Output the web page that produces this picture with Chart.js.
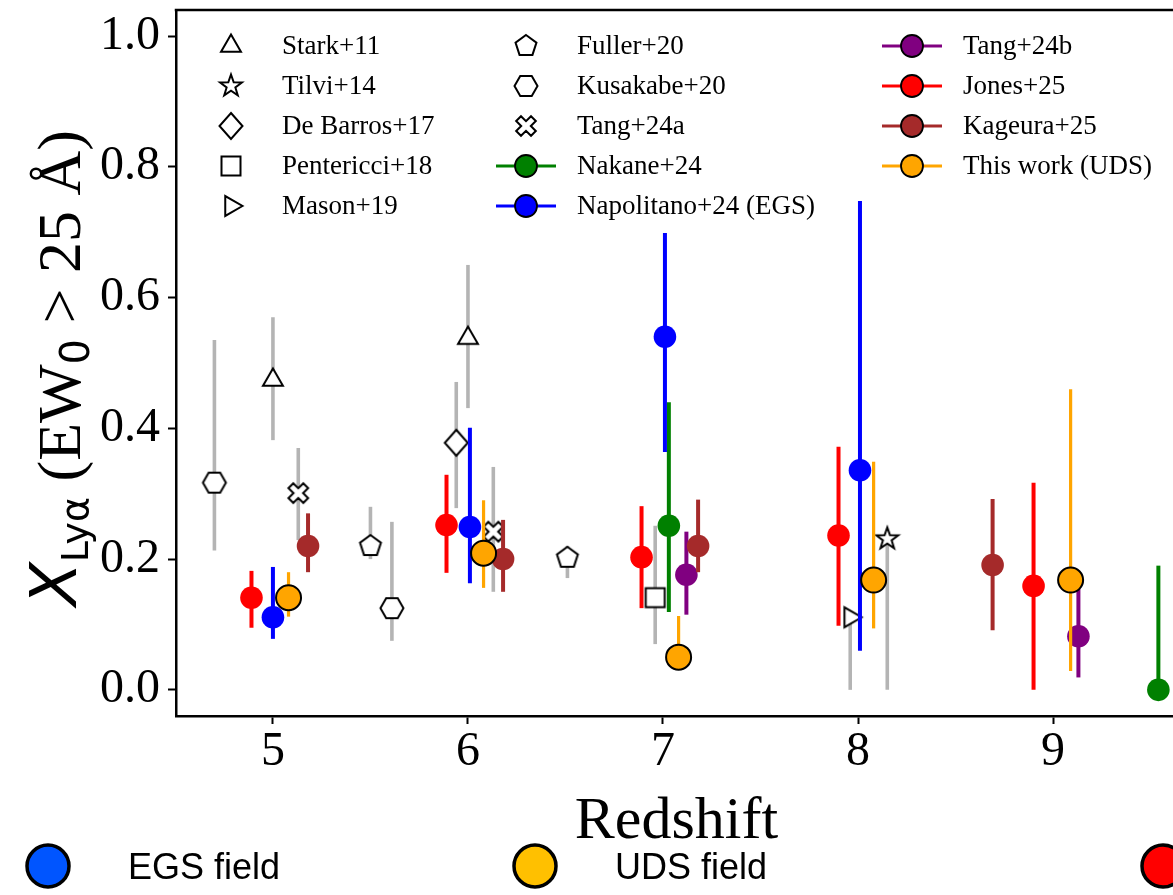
<!DOCTYPE html>
<html><head><meta charset="utf-8">
<script src="https://cdn.jsdelivr.net/npm/chart.js@4.4.1/dist/chart.umd.min.js"></script>
<style>html,body{margin:0;padding:0;background:#fff;overflow:hidden}canvas{display:block}</style>
</head><body>
<canvas id="c" width="1173" height="895"></canvas>
<script>
// ---------------- data ----------------
const xTicks = [5, 6, 7, 8, 9];
const xTickLabels = ['5', '6', '7', '8', '9'];
const yTicks = [0.0, 0.2, 0.4, 0.6, 0.8, 1.0];
const yTickLabels = ['0.0', '0.2', '0.4', '0.6', '0.8', '1.0'];

const starkZ = [5.0, 6.0],   starkY = [0.474, 0.538], starkLo = [0.382, 0.431], starkHi = [0.570, 0.650];
const tilviZ = [8.15],       tilviY = [0.231],        tilviLo = [0.0],          tilviHi = [0.231];
const debarrosZ = [5.94],    debarrosY = [0.378],     debarrosLo = [0.278],     debarrosHi = [0.471];
const pentericciZ = [6.96],  pentericciY = [0.141],   pentericciLo = [0.070],   pentericciHi = [0.251];
const masonZ = [7.96],       masonY = [0.111],        masonLo = [0.0],          masonHi = [0.111];
const fullerZ = [5.5, 6.51], fullerY = [0.220, 0.202], fullerLo = [0.200, 0.171], fullerHi = [0.280, 0.220];
const kusakabeZ = [4.70, 5.61], kusakabeY = [0.317, 0.125], kusakabeLo = [0.213, 0.075], kusakabeHi = [0.535, 0.257];
const tang24aZ = [5.13, 6.13], tang24aY = [0.301, 0.242], tang24aLo = [0.229, 0.150], tang24aHi = [0.370, 0.341];
const nakaneZ = [7.03, 9.54], nakaneY = [0.251, 0.0], nakaneLo = [0.119, 0.0], nakaneHi = [0.440, 0.190];
const napolitanoZ = [5.0, 6.01, 7.01, 8.01], napolitanoY = [0.111, 0.249, 0.540, 0.336],
      napolitanoLo = [0.078, 0.163, 0.364, 0.060], napolitanoHi = [0.188, 0.401, 0.699, 0.748];
const tang24bZ = [7.12, 9.13], tang24bY = [0.176, 0.082], tang24bLo = [0.115, 0.019], tang24bHi = [0.242, 0.154];
const jonesZ = [4.89, 5.89, 6.89, 7.90, 8.90], jonesY = [0.141, 0.252, 0.203, 0.236, 0.159],
      jonesLo = [0.095, 0.179, 0.125, 0.098, 0.0], jonesHi = [0.182, 0.329, 0.281, 0.372, 0.317];
const kageuraZ = [5.18, 6.18, 7.18, 8.69], kageuraY = [0.220, 0.200, 0.220, 0.191],
      kageuraLo = [0.180, 0.150, 0.180, 0.091], kageuraHi = [0.270, 0.260, 0.291, 0.292];
const thisWorkZ = [5.08, 6.08, 7.08, 8.08, 9.09], thisWorkY = [0.141, 0.209, 0.050, 0.168, 0.168],
      thisWorkLo = [0.112, 0.156, 0.035, 0.094, 0.029], thisWorkHi = [0.180, 0.290, 0.113, 0.349, 0.460];

const fieldLabels = ['EGS field', 'UDS field', ''];

// ---------------- marker images ----------------
function makeMarker(shape) {
  const S = 36, c = document.createElement('canvas');
  c.width = S; c.height = S;
  const g = c.getContext('2d');
  g.translate(S / 2, S / 2);
  g.beginPath();
  const poly = (n, r, a0) => { for (let k = 0; k < n; k++) { const a = a0 + k * 2 * Math.PI / n; const px = r * Math.cos(a), py = r * Math.sin(a); k ? g.lineTo(px, py) : g.moveTo(px, py); } g.closePath(); };
  if (shape === 'triUp') poly(3, 11.5, -Math.PI / 2);
  else if (shape === 'triRight') poly(3, 11.5, 0);
  else if (shape === 'pentagon') poly(5, 11, -Math.PI / 2);
  else if (shape === 'hexagon') poly(6, 11.5, 0);
  else if (shape === 'square') { g.rect(-9.5, -9.5, 19, 19); }
  else if (shape === 'diamond') { g.moveTo(0, -13); g.lineTo(11.5, 0); g.lineTo(0, 13); g.lineTo(-11.5, 0); g.closePath(); }
  else if (shape === 'star') {
    for (let k = 0; k < 10; k++) { const r = k % 2 ? 4.6 : 11.5; const a = -Math.PI / 2 + k * Math.PI / 5; const px = r * Math.cos(a), py = r * Math.sin(a); k ? g.lineTo(px, py) : g.moveTo(px, py); }
    g.closePath();
  } else if (shape === 'xcross') {
    const w = 3.4, L = 10.5;
    const pts = [[-w, -L], [w, -L], [w, -w], [L, -w], [L, w], [w, w], [w, L], [-w, L], [-w, w], [-L, w], [-L, -w], [-w, -w]];
    const ca = Math.cos(Math.PI / 4), sa = Math.sin(Math.PI / 4);
    pts.forEach((p, k) => { const px = p[0] * ca - p[1] * sa, py = p[0] * sa + p[1] * ca; k ? g.lineTo(px, py) : g.moveTo(px, py); });
    g.closePath();
  }
  g.fillStyle = '#fff'; g.fill();
  g.lineWidth = 2; g.strokeStyle = '#000'; g.lineJoin = 'miter'; g.stroke();
  return c;
}

const GRAY = '#b4b4b4';
const series = [
  { label: 'Stark+11', z: starkZ, y: starkY, lo: starkLo, hi: starkHi, marker: 'triUp' },
  { label: 'Tilvi+14', z: tilviZ, y: tilviY, lo: tilviLo, hi: tilviHi, marker: 'star' },
  { label: 'De Barros+17', z: debarrosZ, y: debarrosY, lo: debarrosLo, hi: debarrosHi, marker: 'diamond' },
  { label: 'Pentericci+18', z: pentericciZ, y: pentericciY, lo: pentericciLo, hi: pentericciHi, marker: 'square' },
  { label: 'Mason+19', z: masonZ, y: masonY, lo: masonLo, hi: masonHi, marker: 'triRight' },
  { label: 'Fuller+20', z: fullerZ, y: fullerY, lo: fullerLo, hi: fullerHi, marker: 'pentagon' },
  { label: 'Kusakabe+20', z: kusakabeZ, y: kusakabeY, lo: kusakabeLo, hi: kusakabeHi, marker: 'hexagon' },
  { label: 'Tang+24a', z: tang24aZ, y: tang24aY, lo: tang24aLo, hi: tang24aHi, marker: 'xcross' },
  { label: 'Nakane+24', z: nakaneZ, y: nakaneY, lo: nakaneLo, hi: nakaneHi, color: '#008000' },
  { label: 'Napolitano+24 (EGS)', z: napolitanoZ, y: napolitanoY, lo: napolitanoLo, hi: napolitanoHi, color: '#0000ff' },
  { label: 'Tang+24b', z: tang24bZ, y: tang24bY, lo: tang24bLo, hi: tang24bHi, color: '#800080' },
  { label: 'Jones+25', z: jonesZ, y: jonesY, lo: jonesLo, hi: jonesHi, color: '#ff0000' },
  { label: 'Kageura+25', z: kageuraZ, y: kageuraY, lo: kageuraLo, hi: kageuraHi, color: '#a52a2a' },
  { label: 'This work (UDS)', z: thisWorkZ, y: thisWorkY, lo: thisWorkLo, hi: thisWorkHi, color: '#ffa500', edge: true }
];
const N = series.length;

const datasets = series.map((s, i) => {
  const img = s.marker ? makeMarker(s.marker) : null;
  return {
    label: s.label,
    data: s.z.map((z, j) => ({ x: z, y: s.y[j] })),
    pointStyle: img || 'circle',
    pointRadius: s.edge ? 12.5 : 11.3,
    pointHoverRadius: s.edge ? 12.5 : 11.3,
    backgroundColor: s.color || '#fff',
    borderColor: s.edge ? '#000' : (s.color || '#000'),
    pointBorderWidth: s.edge ? 2 : 0,
    showLine: false,
    order: N - i,
    clip: false,
    errLo: s.lo, errHi: s.hi,
    errColor: s.color || GRAY,
    errWidth: s.color === '#ffa500' ? 3.2 : (s.color ? 4 : 3.6),
    markerImg: img
  };
});

// ---------------- plugins ----------------
const errPlugin = {
  id: 'errbars',
  beforeDatasetDraw(chart, args) {
    const ds = chart.data.datasets[args.index];
    const xs = chart.scales.x, ys = chart.scales.y, ctx = chart.ctx;
    ctx.save();
    ctx.strokeStyle = ds.errColor; ctx.lineWidth = ds.errWidth; ctx.lineCap = 'butt';
    ds.data.forEach((p, j) => {
      const x = xs.getPixelForValue(p.x);
      ctx.beginPath();
      ctx.moveTo(x, ys.getPixelForValue(ds.errLo[j]));
      ctx.lineTo(x, ys.getPixelForValue(ds.errHi[j]));
      ctx.stroke();
    });
    ctx.restore();
  }
};

const decorPlugin = {
  id: 'decor',
  afterDraw(chart) {
    const ctx = chart.ctx, ca = chart.chartArea;
    ctx.save();
    // top spine
    ctx.strokeStyle = '#000'; ctx.lineWidth = 2.5;
    ctx.beginPath(); ctx.moveTo(ca.left - 1.25, ca.top); ctx.lineTo(ca.right, ca.top); ctx.stroke();

    // in-plot legend (3 columns)
    const colX = [231, 526, 912], rowY = [46, 86, 126, 166, 206];
    ctx.font = '27px "Liberation Serif"'; ctx.fillStyle = '#000'; ctx.textBaseline = 'middle'; ctx.textAlign = 'left';
    chart.data.datasets.forEach((ds, i) => {
      const col = i < 5 ? 0 : (i < 10 ? 1 : 2);
      const row = i < 5 ? i : (i < 10 ? i - 5 : i - 10);
      const mx = colX[col], my = rowY[row];
      if (ds.markerImg) {
        ctx.drawImage(ds.markerImg, mx - ds.markerImg.width / 2, my - ds.markerImg.height / 2);
      } else {
        ctx.strokeStyle = ds.errColor; ctx.lineWidth = 3;
        ctx.beginPath(); ctx.moveTo(mx - 30, my); ctx.lineTo(mx + 30, my); ctx.stroke();
        ctx.beginPath(); ctx.arc(mx, my, 11, 0, Math.PI * 2);
        ctx.fillStyle = ds.backgroundColor; ctx.fill();
        ctx.strokeStyle = '#000'; ctx.lineWidth = 1.8; ctx.stroke();
        ctx.fillStyle = '#000';
      }
      ctx.fillText(ds.label, mx + 51, my + 1);
    });

    // x title
    ctx.font = '60px "Liberation Serif"'; ctx.textAlign = 'center'; ctx.textBaseline = 'alphabetic';
    ctx.fillText('Redshift', (ca.left + ca.right) / 2 + 2, 838);

    // y title with sub-scripts
    ctx.save();
    ctx.translate(80, 606);
    ctx.rotate(-Math.PI / 2);
    ctx.textAlign = 'left'; ctx.textBaseline = 'alphabetic';
    let x = 0;
    const seg = (t, font, dy) => { ctx.font = font; ctx.fillText(t, x, dy); x += ctx.measureText(t).width; };
    seg('X', 'italic 64px "DejaVu Sans"', -4);
    seg('Lyα', '38px "DejaVu Sans"', 8);
    seg(' (EW', '62px "Liberation Serif"', 0);
    seg('0', '40px "DejaVu Sans"', 9);
    seg(' > 25 Å)', '62px "Liberation Serif"', 0);
    ctx.restore();

    // bottom field legend
    const fieldX = [48, 535, 1163], fieldCol = ['#0055ff', '#ffc000', '#ff0000'];
    fieldX.forEach((fx, k) => {
      ctx.beginPath(); ctx.arc(fx, 866, 21, 0, Math.PI * 2);
      ctx.fillStyle = fieldCol[k]; ctx.fill();
      ctx.lineWidth = 3.5; ctx.strokeStyle = '#000'; ctx.stroke();
      if (fieldLabels[k]) {
        ctx.fillStyle = '#000'; ctx.font = '36px "Liberation Sans"'; ctx.textAlign = 'left'; ctx.textBaseline = 'alphabetic';
        ctx.fillText(fieldLabels[k], fx + 80, 879);
      }
    });
    ctx.restore();
  }
};

Chart.defaults.font.family = '"Liberation Serif"';
Chart.defaults.color = '#000';

const noPad = s => { s.paddingTop = 0; s.paddingBottom = 0; s.paddingLeft = 0; s.paddingRight = 0; };

new Chart(document.getElementById('c'), {
  type: 'scatter',
  data: { datasets },
  options: {
    responsive: false,
    animation: false,
    events: [],
    layout: { autoPadding: false, padding: { top: 10, left: 0, right: 0, bottom: 0 } },
    plugins: { legend: { display: false }, tooltip: { enabled: false } },
    scales: {
      x: {
        type: 'linear', min: 4.503, max: 9.615,
        afterBuildTicks: s => { s.ticks = xTicks.map(v => ({ value: v })); },
        afterFit: s => { s.height = 179; noPad(s); },
        ticks: { callback: v => xTickLabels[xTicks.indexOf(v)], font: { size: 48, family: '"Liberation Serif"' }, color: '#000', padding: 0, maxRotation: 0, autoSkip: false },
        grid: { drawOnChartArea: false, drawTicks: true, tickLength: 8, tickWidth: 2, tickColor: '#000' },
        border: { display: true, color: '#000', width: 2.5 }
      },
      y: {
        type: 'linear', min: -0.04, max: 1.04,
        afterBuildTicks: s => { s.ticks = yTicks.map(v => ({ value: v })); },
        afterFit: s => { s.width = 176; noPad(s); },
        ticks: { callback: v => yTickLabels[yTicks.indexOf(v)], font: { size: 48, family: '"Liberation Serif"' }, color: '#000', padding: 8, autoSkip: false },
        grid: { drawOnChartArea: false, drawTicks: true, tickLength: 8, tickWidth: 2, tickColor: '#000' },
        border: { display: true, color: '#000', width: 2.5 }
      }
    }
  },
  plugins: [errPlugin, decorPlugin]
});
</script>
</body></html>
